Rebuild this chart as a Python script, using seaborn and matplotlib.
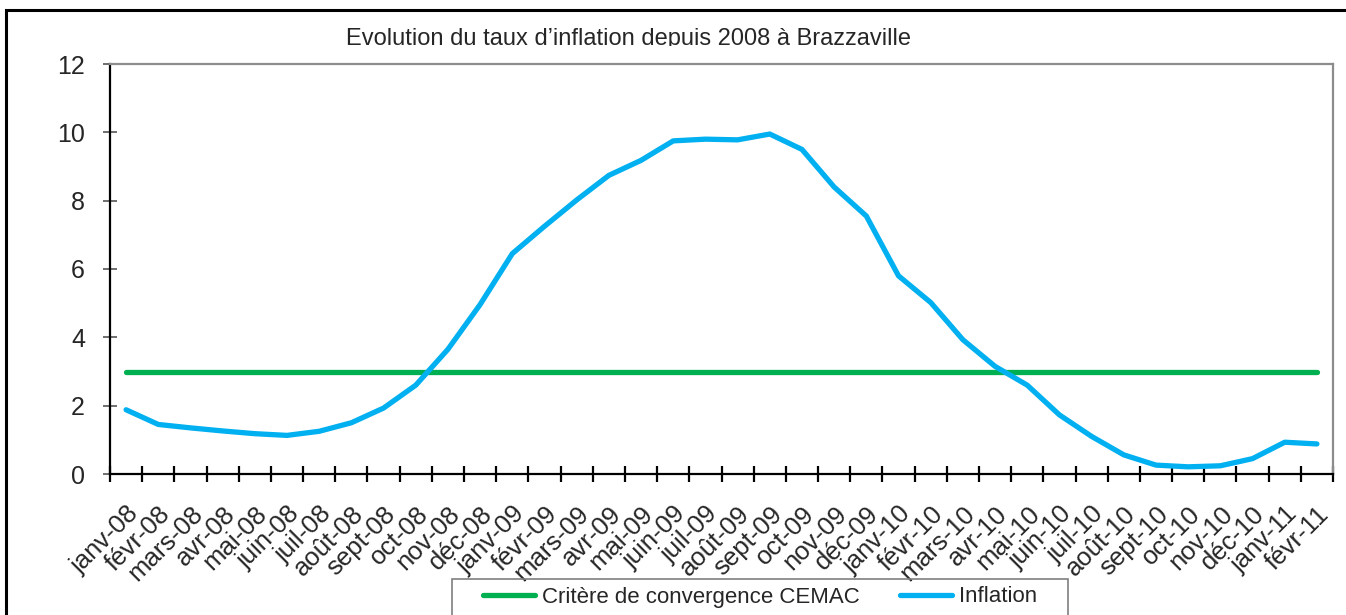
import matplotlib
matplotlib.use("Agg")
import matplotlib.pyplot as plt
from matplotlib.patches import Rectangle
import seaborn as sns
import pandas as pd

months = ['janv-08', 'févr-08', 'mars-08', 'avr-08', 'mai-08', 'juin-08', 'juil-08', 'août-08',
          'sept-08', 'oct-08', 'nov-08', 'déc-08',
          'janv-09', 'févr-09', 'mars-09', 'avr-09', 'mai-09', 'juin-09', 'juil-09', 'août-09',
          'sept-09', 'oct-09', 'nov-09', 'déc-09',
          'janv-10', 'févr-10', 'mars-10', 'avr-10', 'mai-10', 'juin-10', 'juil-10', 'août-10',
          'sept-10', 'oct-10', 'nov-10', 'déc-10',
          'janv-11', 'févr-11']

inflation = [1.88, 1.45, 1.35, 1.26, 1.18, 1.13, 1.25, 1.50, 1.93, 2.60, 3.65, 4.96,
             6.45, 7.25, 8.02, 8.74, 9.18, 9.75, 9.80, 9.78, 9.95, 9.50, 8.40, 7.55,
             5.80, 5.02, 3.93, 3.15, 2.60, 1.73, 1.10, 0.56, 0.26, 0.21, 0.24, 0.45,
             0.93, 0.88]

cemac = [3, 3, 3, 3, 3, 3, 3, 3, 3, 3, 3, 3,
         3, 3, 3, 3, 3, 3, 3, 3, 3, 3, 3, 3,
         3, 3, 3, 3, 3, 3, 3, 3, 3, 3, 3, 3,
         3, 3]

series_names = ['Critère de convergence CEMAC', 'Inflation']
series_colors = ['#00B050', '#00B0F0']
title = 'Evolution du taux d’inflation depuis 2008 à Brazzaville'
yticks = [0, 2, 4, 6, 8, 10, 12]

sns.set_theme(style='white')
plt.rcParams['font.family'] = ['Liberation Sans', 'DejaVu Sans']

idx = list(range(len(months)))
df = pd.concat([
    pd.DataFrame({'pos': idx, 'value': cemac, 'series': series_names[0]}),
    pd.DataFrame({'pos': idx, 'value': inflation, 'series': series_names[1]}),
], ignore_index=True)

W, H = 1346, 615
fig = plt.figure(figsize=(W / 100, H / 100), dpi=100)
ax = fig.add_axes([110 / W, 1 - 474 / H, (1333 - 110) / W, (474 - 64) / H])

sns.lineplot(data=df, x='pos', y='value', hue='series', hue_order=series_names,
             palette=dict(zip(series_names, series_colors)), linewidth=3.8,
             sort=False, ax=ax, solid_capstyle='round', solid_joinstyle='round')

ax.set_xlim(-0.5, len(months) - 0.5)
ax.set_ylim(0, 12)
ax.set_xlabel('')
ax.set_ylabel('')

ax.set_yticks(yticks)
ax.set_yticklabels([str(v) for v in yticks], fontsize=18)
ax.tick_params(axis='y', direction='inout', length=10, width=1.2, color='#555555', pad=13, left=True)

ax.set_xticks(idx)
ax.set_xticklabels(months, fontsize=18.5, rotation=45, ha='right', va='top', rotation_mode='anchor')
ax.tick_params(axis='x', which='major', length=0, pad=20, bottom=True)
ax.set_xticks([i - 0.5 for i in range(len(months) + 1)], minor=True)
ax.tick_params(axis='x', which='minor', direction='inout', length=11.5, width=1.6, color='black', bottom=True)

for s in ['left', 'bottom']:
    ax.spines[s].set_color('black')
    ax.spines[s].set_linewidth(1.6)
for s in ['top', 'right']:
    ax.spines[s].set_color('#8c8c8c')
    ax.spines[s].set_linewidth(1.6)
ax.grid(False)

handles, labels = ax.get_legend_handles_labels()
ax.get_legend().remove()
leg = fig.legend(handles, labels, loc='center', bbox_to_anchor=(760 / W, 1 - 597 / H),
                 ncol=2, frameon=False, fontsize=16, handlelength=2.35, handletextpad=0.3,
                 columnspacing=1.8, borderaxespad=0)
for h in leg.get_lines():
    h.set_linewidth(3.8)

# legend box
fig.add_artist(Rectangle((452 / W, -0.02), (1068 - 452) / W, (0.02 + 1 - 579 / H),
                         transform=fig.transFigure, fill=False, edgecolor='#7f7f7f', linewidth=1.2))
# outer chart frame
fig.add_artist(Rectangle((6 / W, -0.05), 1.1, 1.05 - 10 / H,
                         transform=fig.transFigure, fill=False, edgecolor='black', linewidth=2.2))

fig.text(629 / W, 1 - 45 / H, title, fontsize=17, ha='center', va='baseline')
# the title's descenders are hidden behind the plot area in the original
fig.add_artist(Rectangle((320 / W, 1 - 62 / H), 620 / W, 16 / H, transform=fig.transFigure,
                         facecolor='white', edgecolor='none', zorder=5))

fig.savefig('out.png', dpi=100)
